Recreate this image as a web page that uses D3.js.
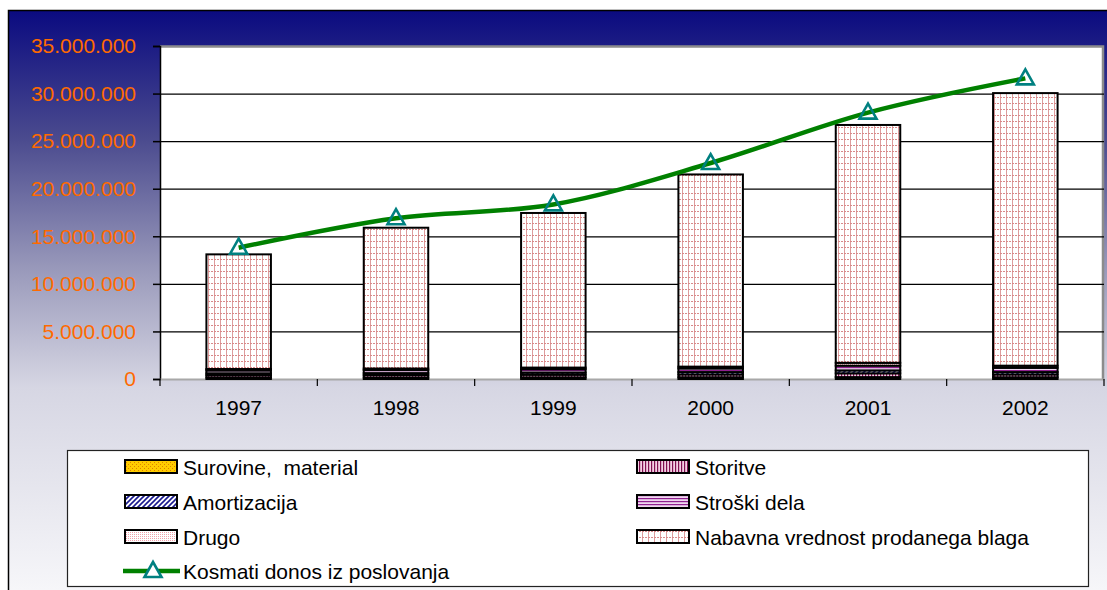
<!DOCTYPE html>
<html>
<head>
<meta charset="utf-8">
<script src="https://cdn.jsdelivr.net/npm/d3@7"></script>
<style>
  body { margin: 0; background: #fff; }
  svg { display: block; font-family: "Liberation Sans", Arial, sans-serif; }
</style>
</head>
<body>
<svg id="chart" width="1107" height="590"></svg>
<script>
const years = ['1997', '1998', '1999', '2000', '2001', '2002'];
const surovine = [150000, 150000, 170000, 180000, 200000, 180000];
const storitve = [250000, 260000, 280000, 300000, 400000, 300000];
const amortizacija = [200000, 210000, 230000, 250000, 300000, 250000];
const stroskiDela = [300000, 320000, 350000, 380000, 500000, 450000];
const drugo = [150000, 160000, 170000, 190000, 300000, 220000];
const nabavna = [12050000, 14800000, 16250000, 20200000, 25000000, 28650000];
const kosmati = [13800000, 16900000, 18350000, 22700000, 28000000, 31600000];
const yTicks = [0, 5000000, 10000000, 15000000, 20000000, 25000000, 30000000, 35000000];

const seriesNames = ['Surovine,  material', 'Storitve', 'Amortizacija', 'Stroški dela', 'Drugo', 'Nabavna vrednost prodanega blaga'];
const seriesValues = [surovine, storitve, amortizacija, stroskiDela, drugo, nabavna];
const seriesFill = ['url(#pSur)', 'url(#pSto)', 'url(#pAmo)', 'url(#pStr)', 'url(#pDru)', 'url(#pNab)'];

const FS = 21;
const svg = d3.select('#chart');
const defs = svg.append('defs');

// background gradient
const grad = defs.append('linearGradient').attr('id', 'bg')
  .attr('x1', 0).attr('y1', 0).attr('x2', 0).attr('y2', 1);
grad.append('stop').attr('offset', '0%').attr('stop-color', '#0a0a80');
grad.append('stop').attr('offset', '22%').attr('stop-color', '#4a4a8e');
grad.append('stop').attr('offset', '45%').attr('stop-color', '#9a9abb');
grad.append('stop').attr('offset', '65%').attr('stop-color', '#d6d6e3');
grad.append('stop').attr('offset', '100%').attr('stop-color', '#f6f6f9');

function pattern(id, w, h, draw) {
  const p = defs.append('pattern').attr('id', id)
    .attr('patternUnits', 'userSpaceOnUse').attr('width', w).attr('height', h);
  draw(p);
}
pattern('pNab', 6, 6, p => {
  p.append('rect').attr('width', 6).attr('height', 6).attr('fill', '#fff');
  p.append('line').attr('x1', 0.5).attr('x2', 0.5).attr('y1', 0).attr('y2', 6)
    .attr('stroke', '#dd9c9c').attr('stroke-width', 1);
  p.append('line').attr('x1', 0).attr('x2', 6).attr('y1', 3.5).attr('y2', 3.5)
    .attr('stroke', '#d88a8a').attr('stroke-width', 1).attr('stroke-dasharray', '2,1');
});
pattern('pDru', 2, 2, p => {
  p.append('rect').attr('width', 2).attr('height', 2).attr('fill', '#fff');
  p.append('rect').attr('width', 1).attr('height', 1).attr('fill', '#f2a0aa');
});
pattern('pSur', 4, 4, p => {
  p.append('rect').attr('width', 4).attr('height', 4).attr('fill', '#ffcc00');
  p.append('rect').attr('width', 1).attr('height', 1).attr('fill', '#e08000');
  p.append('rect').attr('x', 2).attr('y', 2).attr('width', 1).attr('height', 1).attr('fill', '#e08000');
});
pattern('pAmo', 5, 5, p => {
  p.append('rect').attr('width', 5).attr('height', 5).attr('fill', '#fff');
  p.append('path').attr('d', 'M0,5 L5,0 M-1,1 L1,-1 M4,6 L6,4')
    .attr('stroke', '#1a1a90').attr('stroke-width', 1.6);
});
pattern('pSto', 3, 4, p => {
  p.append('rect').attr('width', 3).attr('height', 4).attr('fill', '#f4d0e4');
  p.append('rect').attr('width', 1.2).attr('height', 4).attr('fill', '#801050');
});
pattern('pStr', 4, 3, p => {
  p.append('rect').attr('width', 4).attr('height', 3).attr('fill', '#f0d8f0');
  p.append('rect').attr('width', 4).attr('height', 1.2).attr('fill', '#902090');
});

// background frame
svg.append('rect').attr('x', 8).attr('y', 10).attr('width', 1099).attr('height', 580)
  .attr('fill', 'url(#bg)');
svg.append('path').attr('d', 'M8.5,590 V10.5 H1107')
  .attr('fill', 'none').attr('stroke', '#000').attr('stroke-width', 1.5);

const plot = { left: 160, top: 46, right: 1104, bottom: 379 };
const width = plot.right - plot.left;
const height = plot.bottom - plot.top;

const x = d3.scaleBand().domain(years).range([0, width]).paddingInner(0.59).paddingOuter(0.295);
const y = d3.scaleLinear().domain([0, 35000000]).range([height, 0]);

const g = svg.append('g').attr('transform', `translate(${plot.left},${plot.top})`);

// plot area
g.append('rect').attr('x', 0).attr('y', 0).attr('width', width).attr('height', height).attr('fill', '#fff');
g.append('path').attr('d', `M0,0.5 H${width - 1} V${height}`)
  .attr('fill', 'none').attr('stroke', '#8c8c8c').attr('stroke-width', 2.5);

// gridlines
g.append('g')
  .call(d3.axisLeft(y).tickValues(yTicks.slice(1, -1)).tickSize(-width).tickFormat(''))
  .call(a => a.select('.domain').remove())
  .call(a => a.selectAll('line').attr('stroke', '#000').attr('stroke-width', 1.2));

// y axis
const fmt = v => d3.format(',')(v).replace(/,/g, '.');
g.append('g')
  .call(d3.axisLeft(y).tickValues(yTicks).tickSize(7).tickPadding(17).tickFormat(fmt))
  .call(a => a.select('.domain').attr('stroke', '#000').attr('stroke-width', 1.5))
  .call(a => a.selectAll('line').attr('stroke', '#000').attr('stroke-width', 1.5))
  .call(a => a.selectAll('text').attr('fill', '#ff6a00').attr('font-size', FS)
    .attr('font-family', '"Liberation Sans", Arial, sans-serif'));

// x axis
const step = x.step();
g.append('g').attr('transform', `translate(0,${height})`)
  .call(d3.axisBottom(x).tickSize(0).tickPadding(21))
  .call(a => a.select('.domain').attr('stroke', '#a8a8a8').attr('stroke-width', 2))
  .call(a => a.selectAll('text').attr('fill', '#000').attr('font-size', FS)
    .attr('font-family', '"Liberation Sans", Arial, sans-serif'));
g.append('g').selectAll('line').data(d3.range(years.length + 1)).join('line')
  .attr('x1', i => i * step).attr('x2', i => i * step)
  .attr('y1', height).attr('y2', height + 7)
  .attr('stroke', '#000').attr('stroke-width', 1.2);

// stacked bars
const rows = years.map((yr, i) => {
  const r = { year: yr };
  seriesNames.forEach((n, k) => { r[n] = seriesValues[k][i]; });
  return r;
});
const stack = d3.stack().keys(seriesNames)(rows);
stack.forEach((layer, k) => {
  g.append('g').selectAll('rect').data(layer).join('rect')
    .attr('x', d => x(d.data.year))
    .attr('width', x.bandwidth())
    .attr('y', d => y(d[1]))
    .attr('height', d => y(d[0]) - y(d[1]))
    .attr('fill', seriesFill[k])
    .attr('stroke', '#000').attr('stroke-width', 2);
});

// line
const lineData = years.map((yr, i) => ({ year: yr, v: kosmati[i] }));
g.append('path').datum(lineData)
  .attr('fill', 'none').attr('stroke', '#008000').attr('stroke-width', 4.5)
  .attr('d', d3.line().x(d => x(d.year) + x.bandwidth() / 2).y(d => y(d.v)).curve(d3.curveCatmullRom.alpha(0.5)));
const tri = 'M0,-9 L8.5,6 L-8.5,6 Z';
g.append('g').selectAll('path').data(lineData).join('path')
  .attr('transform', d => `translate(${x(d.year) + x.bandwidth() / 2},${y(d.v)})`)
  .attr('d', tri).attr('fill', 'none').attr('stroke', '#008080').attr('stroke-width', 2.6);

// legend
const leg = svg.append('g');
leg.append('rect').attr('x', 67.5).attr('y', 450.5).attr('width', 1021).attr('height', 136)
  .attr('fill', '#fff').attr('stroke', '#222').attr('stroke-width', 1.2);
const legItems = [
  { name: seriesNames[0], fill: seriesFill[0], col: 0, row: 0 },
  { name: seriesNames[1], fill: seriesFill[1], col: 1, row: 0 },
  { name: seriesNames[2], fill: seriesFill[2], col: 0, row: 1 },
  { name: seriesNames[3], fill: seriesFill[3], col: 1, row: 1 },
  { name: seriesNames[4], fill: seriesFill[4], col: 0, row: 2 },
  { name: seriesNames[5], fill: seriesFill[5], col: 1, row: 2 },
  { name: 'Kosmati donos iz poslovanja', line: true, col: 0, row: 3 }
];
const colX = [124, 636];
const rowY = [467, 502, 537, 571];
legItems.forEach(it => {
  const lx = colX[it.col], ly = rowY[it.row];
  if (it.line) {
    leg.append('line').attr('x1', lx - 1).attr('x2', lx + 56).attr('y1', ly).attr('y2', ly)
      .attr('stroke', '#008000').attr('stroke-width', 4.5);
    leg.append('path').attr('transform', `translate(${lx + 29},${ly})`).attr('d', tri)
      .attr('fill', '#fff').attr('stroke', '#008080').attr('stroke-width', 2.6);
  } else {
    leg.append('rect').attr('x', lx + 1).attr('y', ly - 7).attr('width', 52).attr('height', 13)
      .attr('fill', it.fill).attr('stroke', '#000').attr('stroke-width', 2);
  }
  leg.append('text').attr('x', lx + 59).attr('y', ly + 7.5)
    .attr('font-size', FS).attr('fill', '#000').style('white-space', 'pre')
    .text(it.name);
});
</script>
</body>
</html>
